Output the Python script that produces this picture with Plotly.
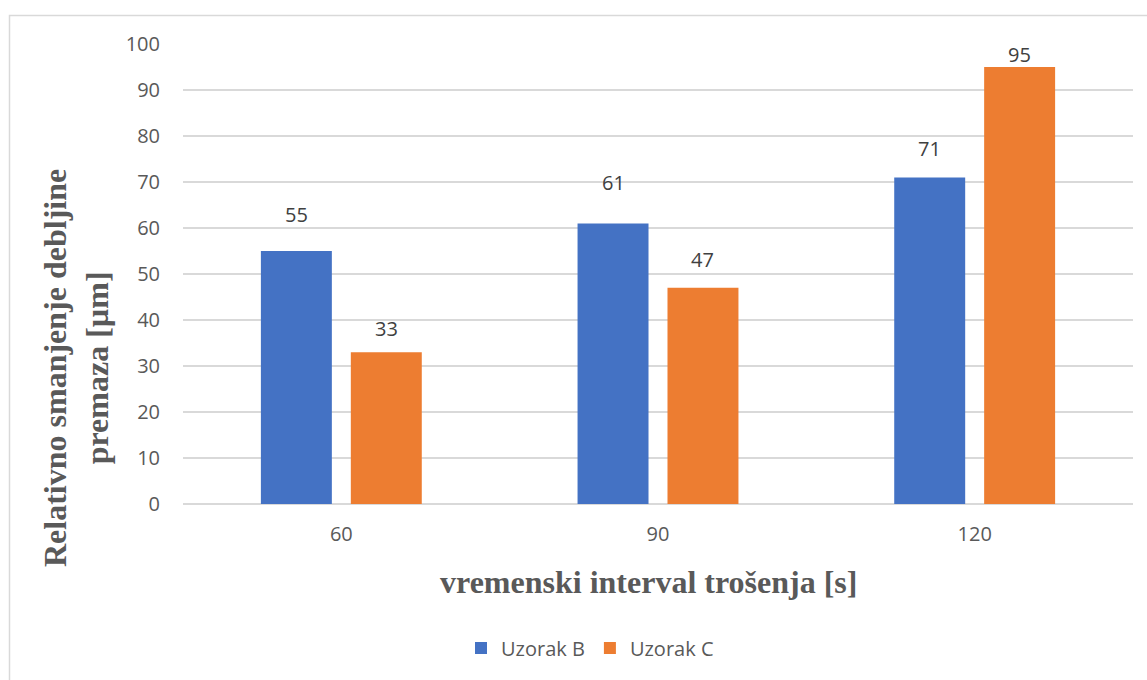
import plotly.graph_objects as go

categories = ["60", "90", "120"]
uzorak_b = [55, 61, 71]
uzorak_c = [33, 47, 95]
y_ticks = [0, 10, 20, 30, 40, 50, 60, 70, 80, 90, 100]

BLUE = "#4472C4"
ORANGE = "#ED7D31"
GREY = "#595959"

W, H = 1147, 680
L, R, T, B = 183, 14, 44, 176
pw, ph = W - L - R, H - T - B

def px_x(p):
    return (p - L) / pw

def px_y(p):
    return (H - B - p) / ph

xpos = list(range(len(categories)))
bargap = 0.432
groupgap = 0.211
slot = (1 - bargap) / 2

# vertical pixel offsets of the (manually placed) data labels above each bar
shift_b = [37, 41, 28.5]
shift_c = [23.5, 28.5, 12.5]

fig = go.Figure()
fig.add_trace(go.Bar(x=xpos, y=uzorak_b, name="Uzorak B", marker_color=BLUE,
                     marker_line_width=0))
fig.add_trace(go.Bar(x=xpos, y=uzorak_c, name="Uzorak C", marker_color=ORANGE,
                     marker_line_width=0))

annotations = []
for i in range(len(categories)):
    for vals, shifts, off in ((uzorak_b, shift_b, -slot / 2), (uzorak_c, shift_c, slot / 2)):
        annotations.append(dict(x=i + off, y=vals[i], xref="x", yref="y", text=str(vals[i]),
                                showarrow=False, yanchor="middle", yshift=shifts[i],
                                font=dict(family="Open Sans", size=20, color="#404040")))

annotations.append(dict(x=px_x(76), y=px_y(368), xref="paper", yref="paper",
                        text="<b>Relativno smanjenje debljine<br>premaza [µm]</b>",
                        textangle=-90, showarrow=False, xanchor="center", yanchor="middle",
                        font=dict(family="Liberation Serif", size=32, color=GREY)))
annotations.append(dict(x=px_x(648), y=px_y(582), xref="paper", yref="paper",
                        text="<b>vremenski interval trošenja [s]</b>",
                        showarrow=False, xanchor="center", yanchor="middle",
                        font=dict(family="Liberation Serif", size=32, color=GREY)))

fig.update_layout(
    width=W, height=H,
    margin=dict(l=L, r=R, t=T, b=B, autoexpand=False),
    paper_bgcolor="white", plot_bgcolor="white",
    barmode="group", bargap=bargap, bargroupgap=groupgap,
    font=dict(family="Open Sans", size=20, color=GREY),
    xaxis=dict(tickmode="array", tickvals=xpos, ticktext=categories,
               range=[-0.5, len(categories) - 0.5], showgrid=False, zeroline=False,
               showline=False, ticks="", ticklabelstandoff=16,
               tickfont=dict(family="Open Sans", size=20, color=GREY)),
    yaxis=dict(range=[0, 100], tickmode="array", tickvals=y_ticks,
               showgrid=True, gridcolor="#D9D9D9", gridwidth=1.5,
               zeroline=True, zerolinecolor="#D9D9D9", zerolinewidth=1.5,
               showline=False, ticks="", ticklabelstandoff=22,
               tickfont=dict(family="Open Sans", size=20, color=GREY)),
    legend=dict(orientation="h", x=px_x(590), y=px_y(648), xanchor="center",
                yanchor="middle", font=dict(family="Open Sans", size=20, color=GREY),
                itemwidth=30, tracegroupgap=0),
    annotations=annotations,
    shapes=[dict(type="rect", xref="paper", yref="paper",
                 x0=px_x(9.5), x1=px_x(1160), y0=px_y(700), y1=px_y(15.5),
                 line=dict(color="#D9D9D9", width=1.5), layer="below")],
)

fig.write_html("out.html", config={"displayModeBar": False},
               post_script="document.body.style.margin='0';document.body.style.padding='0';")
